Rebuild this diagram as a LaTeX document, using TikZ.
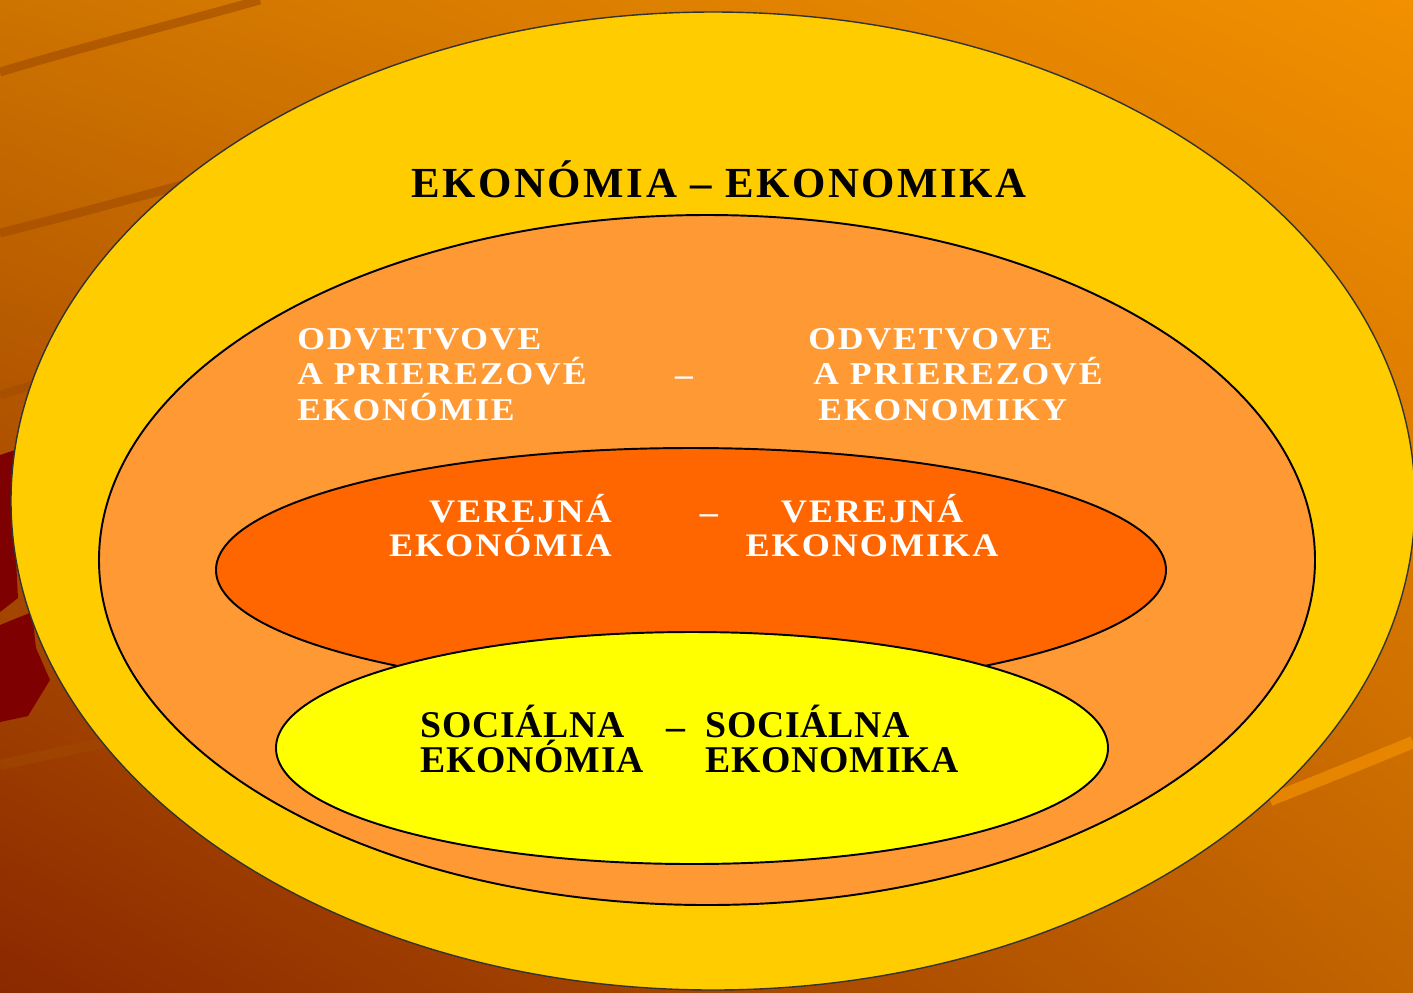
\documentclass[tikz,border=0pt]{standalone}
\usepackage{fontspec}
\setmainfont{Liberation Serif}
\usetikzlibrary{shadings}
\definecolor{bgtopleft}{HTML}{CD7300}
\definecolor{bgtopright}{HTML}{F29000}
\definecolor{bgbotleft}{HTML}{8A2800}
\definecolor{bgbotright}{HTML}{C26400}
\definecolor{streakdark}{HTML}{A04A00}
\definecolor{streaklight}{HTML}{EE8C00}
\definecolor{shardred}{HTML}{7F0000}
\definecolor{ringgold}{HTML}{FFCC00}
\definecolor{ringpeach}{HTML}{FF9933}
\definecolor{ringorange}{HTML}{FF6600}
\definecolor{ringyellow}{HTML}{FFFF00}
\tikzset{
  ring/.style={line width=1.1pt, draw=black},
  titletext/.style={inner sep=0, text=black,
    font=\bfseries\fontsize{24.4}{26}\selectfont\addfontfeatures{LetterSpace=6}},
  sectext/.style={inner sep=0, text=white, align=left,
    font=\bfseries\fontsize{18.1}{20.1}\selectfont\addfontfeatures{FakeStretch=1.12,LetterSpace=6}},
  pubtext/.style={inner sep=0, text=white,
    font=\bfseries\fontsize{18.7}{19.3}\selectfont\addfontfeatures{FakeStretch=1.1,LetterSpace=6}},
  soctext/.style={inner sep=0, text=black, align=left,
    font=\bfseries\fontsize{21.5}{19.8}\selectfont\addfontfeatures{LetterSpace=2}},
}
\begin{document}
\begin{tikzpicture}[x=0.02cm, y=-0.02cm]
    \useasboundingbox (0,0) rectangle (1413,992);
    % background
    \shade[upper left=bgtopleft, upper right=bgtopright,
        lower left=bgbotleft, lower right=bgbotright] (0,0) rectangle (1413,992);
    \draw[streakdark, line width=5pt, opacity=0.6] (0,72) .. controls (90,45) and (160,28) .. (260,0);% top streak
    \draw[streakdark, line width=5pt, opacity=0.6] (0,233) .. controls (60,218) and (120,202) .. (200,180);% left streak
    \draw[streakdark, line width=5pt, opacity=0.5] (0,395) -- (40,383);% left streak
    \draw[streakdark, line width=6pt, opacity=0.5] (0,765) .. controls (40,756) and (80,748) .. (130,737);% low streak
    \draw[streaklight, line width=7pt, opacity=0.8] (1270,800) .. controls (1320,780) and (1370,760) .. (1413,742);% right streak
    \fill[shardred] (0,455) -- (15,450) -- (14,520) -- (18,598) -- (0,612) -- cycle;% upper shard
    \fill[shardred] (0,625) -- (32,612) -- (36,648) -- (50,680) -- (28,716) -- (0,722) -- cycle;% lower shard
    % rings
    \filldraw[fill=ringgold, draw=black!80, line width=0.8pt] (713,501) ellipse [x radius=702, y radius=489];% outer ring
    \filldraw[fill=ringpeach, ring] (707,560) ellipse [x radius=608, y radius=345];% sector ring
    \filldraw[fill=ringorange, ring] (691,570) ellipse [x radius=475, y radius=122];% public ring
    \filldraw[fill=ringyellow, ring] (692,748) ellipse [x radius=416, y radius=116];% social ring
    % labels (base = baseline of the last line)
    \node[titletext, anchor=base] (title) at (719,197) {EKONÓMIA – EKONOMIKA};
    \node[sectext, anchor=base west] (leftsect) at (297,420) {ODVETVOVE\\A PRIEREZOVÉ\\EKONÓMIE};
    \node[sectext, anchor=base west] (rightsect) at (808,420)
        {ODVETVOVE\\\hspace*{0.1cm}A PRIEREZOVÉ\\\hspace*{0.2cm}EKONOMIKY};
    \node[sectext] (sectdash) at (684,381) {–};
    \node[pubtext, align=right, anchor=base east] (leftpub) at (612,556) {VEREJNÁ\\EKONÓMIA};
    \node[pubtext, align=center, anchor=base] (rightpub) at (872,556) {VEREJNÁ\\EKONOMIKA};
    \node[pubtext] (pubdash) at (709,519) {–};
    \node[soctext, anchor=base west] (leftsoc) at (420,772) {SOCIÁLNA\\EKONÓMIA};
    \node[soctext, anchor=base west] (rightsoc) at (705,772) {SOCIÁLNA\\EKONOMIKA};
    \node[soctext] (socdash) at (676,734) {–};
\end{tikzpicture}
\end{document}
